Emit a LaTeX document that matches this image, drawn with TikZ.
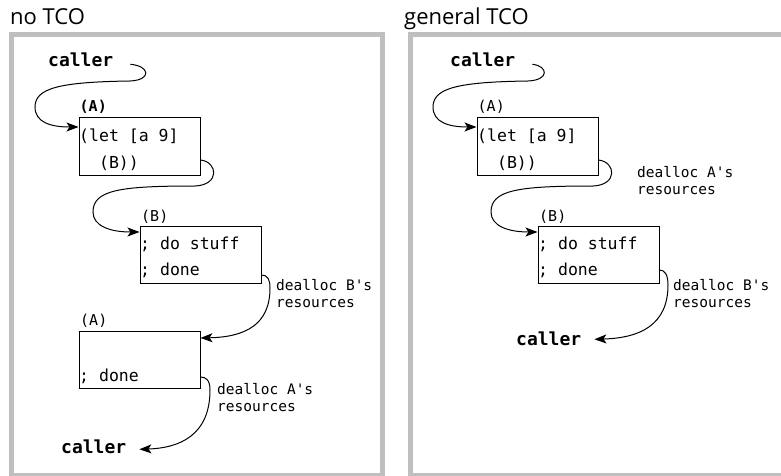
\documentclass[tikz,border=0pt]{standalone}
\usepackage{fontspec}
\setmainfont{Open Sans}
\setmonofont{DejaVu Sans Mono}
\usetikzlibrary{arrows.meta}
\tikzset{
  frame/.style={draw=gray!50, line width=5pt},
  title/.style={anchor=base west, inner sep=0pt, font=\fontsize{22}{26}\selectfont},
  codebox/.style={draw, line width=1pt, minimum width=121pt, minimum height=57pt, inner sep=0pt},
  code/.style={anchor=base west, inner sep=0pt, font=\ttfamily\fontsize{16.5}{26}\selectfont},
  tag/.style={anchor=base west, inner sep=0pt, font=\ttfamily\fontsize{15}{18}\selectfont},
  who/.style={anchor=base west, inner sep=0pt, font=\ttfamily\bfseries\fontsize{18}{22}\selectfont},
  note/.style={anchor=base west, inner sep=0pt, align=left, font=\ttfamily\fontsize{14.5}{17}\selectfont},
  flow/.style={line width=1pt, -{Stealth[length=12pt,width=9pt,inset=3pt]}}
}
\begin{document}
\begin{tikzpicture}[x=1pt, y=-1pt]
        \useasboundingbox (0,0) rectangle (781,476);
        % left panel
        \node[title] (titleL) at (10,25) {no TCO};
        \draw[frame] (11.5,34.5) rectangle (382,475.5);
        \node[who] (callerL) at (48,67) {caller};
        \node[tag, font=\ttfamily\bfseries\fontsize{15}{18}\selectfont] (tagAL) at (79.5,111) {(A)};
        \node[codebox] (boxAL) at (139.5,146.5) {};
        \node[code] (boxAL1) at (79,142) {(let [a 9]};
        \node[code] (boxAL2) at (79,168) {\phantom{xx}(B))};
        \node[tag] (tagBL) at (141,221) {(B)};
        \node[codebox] (boxBL) at (200.5,254.5) {};
        \node[code] (boxBL1) at (140,249) {; do stuff};
        \node[code] (boxBL2) at (140,275) {; done};
        \node[tag] (tagA2L) at (80,325) {(A)};
        \node[codebox] (boxA2L) at (139.5,359.5) {};
        \node[code] (boxA2L1) at (79,381) {; done};
        \node[who] (retL) at (61,453) {caller};
        \node[note] (deallocBL) at (276,307) {dealloc B's\\resources};
        \node[note] (deallocAL) at (217,411) {dealloc A's\\resources};
        % left arrows
        \draw[flow] ([xshift=17pt,yshift=-4pt]callerL.east) .. controls (150,66) and (152,80) .. (130,81)
            .. controls (60,82) and (35,88) .. (35,107) .. controls (35,122) and (50,127) .. ([yshift=19.5pt]boxAL.west);
        \draw[flow] ([yshift=-13.5pt]boxAL.east) .. controls (218,162) and (220,185) .. (195,186)
            .. controls (120,186) and (93,190) .. (93,212) .. controls (93,226) and (110,232) .. ([yshift=22.5pt]boxBL.west);
        \draw[flow] ([yshift=-20.5pt]boxBL.east) .. controls (268,275) and (270,280) .. (270,288)
            .. controls (270,325) and (245,337) .. ([yshift=21.5pt]boxA2L.east);
        \draw[flow] ([yshift=-17.5pt]boxA2L.east) .. controls (206,377) and (210,380) .. (210,390)
            .. controls (210,435) and (180,448) .. ([xshift=13pt,yshift=-3pt]retL.east);
        % right panel
        \begin{scope}[xshift=398pt]
        \node[title] (titleR) at (6,25) {general TCO};
        \draw[frame] (12,34.5) rectangle (387,475.5);
        \node[who] (callerR) at (52,67) {caller};
        \node[tag] (tagAR) at (79.5,111) {(A)};
        \node[codebox] (boxAR) at (139.5,146.5) {};
        \node[code] (boxAR1) at (79,142) {(let [a 9]};
        \node[code] (boxAR2) at (79,168) {\phantom{xx}(B))};
        \node[tag] (tagBR) at (141,221) {(B)};
        \node[codebox] (boxBR) at (200.5,254.5) {};
        \node[code] (boxBR1) at (140,249) {; do stuff};
        \node[code] (boxBR2) at (140,275) {; done};
        \node[who] (retR) at (118,345) {caller};
        \node[note] (deallocAR) at (239,194) {dealloc A's\\resources};
        \node[note] (deallocBR) at (275,307) {dealloc B's\\resources};
        % right arrows
        \draw[flow] ([xshift=17pt,yshift=-4pt]callerR.east) .. controls (150,66) and (152,80) .. (130,81)
            .. controls (60,82) and (35,88) .. (35,107) .. controls (35,122) and (50,127) .. ([yshift=19.5pt]boxAR.west);
        \draw[flow] ([yshift=-13.5pt]boxAR.east) .. controls (218,162) and (220,185) .. (195,186)
            .. controls (120,186) and (93,190) .. (93,212) .. controls (93,226) and (110,232) .. ([yshift=22.5pt]boxBR.west);
        \draw[flow] ([yshift=-15.5pt]boxBR.east) .. controls (267,270) and (270,275) .. (270,285)
            .. controls (270,325) and (242,338) .. ([xshift=13pt,yshift=-1pt]retR.east);
        \end{scope}
\end{tikzpicture}
\end{document}
